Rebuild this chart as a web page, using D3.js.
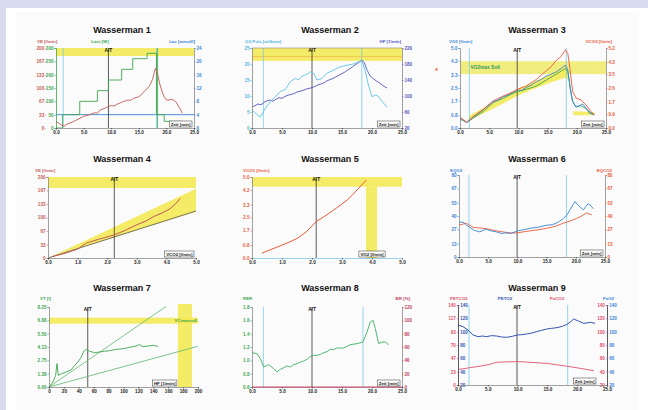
<!DOCTYPE html>
<html><head><meta charset="utf-8">
<script src="https://cdn.jsdelivr.net/npm/d3@7"></script>
<style>
body{margin:0;background:#d9dcef;}
svg{display:block;}
</style></head><body>
<svg width="648" height="410"></svg>
<script>
// ---- data ----
const timeTicks = [0, 5, 10, 15, 20, 25];

// Wasserman 1: VE, load steps, lactate
const ve1 = [[0,16],[0.5,12],[1,7],[1.5,5],[2,10],[3,15],[4,22],[5,29],[6,33],[7,38],[7.5,37],[8,45],[9,50],[9.5,54],[10,56],[10.5,55],[11,59],[12,65],[13,70],[13.5,69],[14,74],[15,78],[15.5,84],[16,92],[16.5,98],[17,107],[17.5,122],[18,149],[18.4,135],[18.8,110],[19.2,92],[19.6,78],[20,70],[20.5,70],[21,72],[21.7,66],[22.3,52],[22.9,37]];
const load1 = [[0,0],[1.2,50],[4.3,100],[7.5,140],[9.5,180],[11.9,220],[13.9,260],[16.5,280],[18.2,50],[19.6,25],[23,25]];
const veTicks = [0, 33, 67, 100, 133, 167, 200];
const loadTicks = [0, 50, 100, 150, 200, 250, 300];
const lacTicks = [0, 4, 8, 12, 16, 20, 24];
const lacRef1 = 4;
const at1 = 9.5, cyan1 = [1.3, 18.2], green1 = 18.4;

// Wasserman 2: O2 pulse, HF
const o2p2 = [[0,5.7],[0.56,4.6],[1.39,3.4],[1.94,5.2],[2.5,6.9],[3.33,8.8],[4.17,10.3],[4.72,11.4],[5.56,12.1],[6.39,14.5],[7.22,15.5],[7.78,15],[8.33,16.2],[9.17,16.8],[9.72,17.6],[10.28,17.1],[10.83,15],[11.67,15.5],[12.5,17.1],[13.6,18.1],[14.7,19.1],[15.8,19.6],[16.9,20],[17.8,20.7],[18.3,21.2],[18.9,17.6],[19.4,13.4],[20,9.8],[20.6,10.3],[21.1,9.8],[21.7,8.3],[22.5,6.5]];
const hf2 = [[0,72],[0.5,76],[1,80],[1.5,78],[2,84],[2.5,88],[3,90],[3.5,87],[4,92],[4.5,96],[5,94],[5.5,99],[6,102],[6.5,104],[7,106],[7.5,110],[8,112],[8.5,114],[9,117],[9.5,119],[10,121],[10.5,124],[11,128],[11.5,130],[12,133],[12.5,138],[13,141],[13.5,144],[14,148],[14.5,152],[15,156],[15.5,160],[16,166],[16.5,170],[17,176],[17.5,181],[18,186],[18.3,189],[18.7,184],[19.2,164],[19.7,150],[20.3,142],[20.8,137],[21.5,130],[22,124],[22.5,120]];
const o2pTicks = [0, 5, 10, 15, 20, 25];
const hfTicks = [20, 60, 100, 140, 180, 220];
const at2 = 10, cyan2 = [1.9, 18.3];
const o2pBand2 = [21, 25];

// Wasserman 3: VO2, VCO2, VE-related
const vo2_3 = [[0,0.62],[0.57,0.48],[1.14,0.35],[1.7,0.48],[2.27,0.68],[3.1,0.9],[3.98,1.14],[4.8,1.4],[5.68,1.65],[6.5,1.75],[7.39,1.96],[8.2,2.05],[9.09,2.21],[9.77,2.38],[10.5,2.34],[11.36,2.54],[12.2,2.68],[13.07,2.89],[13.9,3.03],[14.77,3.24],[15.6,3.36],[16.48,3.51],[17.3,3.72],[18.07,3.93],[18.47,3.62],[18.86,2.58],[19.2,1.76],[19.77,1.34],[20.4,1.38],[21,1.51],[21.6,1.24],[22.16,0.93],[23,0.83]];
const vco2_3 = [[0,0.71],[1.14,0.37],[2.27,0.75],[3.98,1.22],[5.68,1.76],[7.39,2.08],[9.09,2.36],[9.77,2.51],[11.36,2.73],[13.07,3.16],[14.77,3.72],[15.6,3.98],[16.48,4.4],[17.33,4.66],[18.07,5.09],[18.47,4.83],[18.86,3.76],[19.3,2.36],[19.9,1.93],[20.7,1.83],[21.6,1.5],[22.4,1.07],[23,0.86]];
const gr3 = [[0,0.56],[1.14,0.35],[2.27,0.62],[3.98,1.03],[5.68,1.59],[7.39,1.86],[9.09,2.17],[9.77,2.27],[11.36,2.42],[13.07,2.62],[14.77,3.0],[16.48,3.37],[17.6,3.62],[18.07,3.72],[18.47,3.51],[18.86,2.48],[19.3,1.65],[19.9,1.3],[20.7,1.4],[21.6,1.2],[22.4,0.95],[23,0.83]];
const corridor3 = [[1.5,0.45,0.75],[4,0.9,1.25],[7,1.45,1.85],[10,2.05,2.45],[13,2.5,2.95],[16,2.9,3.45],[18.1,3.15,3.9],[18.5,3.0,3.6]];
const corridorEnd3 = [[19.4,0.8,1.05],[23,0.8,1.0]];
const vo2Ticks = [0, 0.8, 1.7, 2.5, 3.3, 4.2, 5.0];
const vco2Ticks = [0, 0.9, 1.7, 2.6, 3.5, 4.3, 5.2];
const vo2maxBand3 = [3.37, 4.17];
const at3 = 9.8, cyan3 = [1.6, 18.2];

// Wasserman 4: VE vs VCO2
const ve4 = [[0.17,4],[0.6,12],[1.0,22],[1.3,37],[1.7,46],[2.24,57],[2.6,68],[3.0,82],[3.3,91],[3.56,102],[3.85,111],[4.13,122],[4.3,133],[4.47,147]];
const wedgeHi4 = 171, wedgeLo4 = 114, refLine4 = 116;
const veBand4 = [173, 200];
const at4 = 2.24;
const vco2xTicks = [0, 1, 2, 3, 4, 5];

// Wasserman 5: VCO2 vs VO2
const vco2_5 = [[0.33,0.3],[0.6,0.5],[0.94,0.75],[1.2,0.95],[1.5,1.2],[1.8,1.6],[2.14,2.25],[2.4,2.55],[2.6,2.8],[2.9,3.2],[3.17,3.57],[3.35,3.9],[3.5,4.2],[3.65,4.5],[3.81,4.8]];
const vco2Band5 = [4.4, 5.0];
const vo2Band5 = [3.8, 4.17];
const at5 = 2.14;
const vco2yTicks = [0, 0.8, 1.7, 2.5, 3.3, 4.2, 5.0];

// Wasserman 6: EQO2, EQCO2
const eqo2_6 = [[0,34],[0.7,34],[1.3,31],[1.83,29],[2.6,26],[3.55,24.5],[4.1,26],[4.69,27],[5.5,25.5],[6.41,24.5],[7.3,23],[8.13,23.5],[9,23],[9.95,25.5],[11,26.5],[12.13,28],[13.5,29],[15,31],[16,31.5],[17,34],[17.85,37.5],[18.5,41],[19,46],[19.5,51],[19.85,54],[20.3,51],[20.7,49],[21.3,46],[21.7,49],[22.1,52],[22.6,50],[23,47]];
const eqco2_6 = [[0,31],[0.6,32],[1.26,33],[1.8,31],[2.4,29],[3.2,28.5],[4.12,28],[5.2,27],[6.41,25.5],[7.5,24.5],[8.7,23.5],[9.95,23.5],[11,24.5],[12.13,25.5],[13.5,26.5],[15,28],[16.5,30],[17.85,33],[19,35],[20.1,37.5],[21,40],[21.85,43],[22.7,41]];
const eqTicks = [0, 13, 27, 40, 53, 67, 80];
const at6 = 9.95, cyan6 = [1.7, 18.4];

// Wasserman 7: VT vs HF
const vt7 = [[0,0],[5.4,0.52],[8.9,1.2],[10.7,2.41],[12.5,1.2],[16.6,1.37],[23.3,1.55],[30,1.79],[34.5,2.23],[38.9,2.58],[43.4,3.09],[46.5,3.68],[50.1,3.88],[54.6,3.68],[61.3,3.54],[68,3.61],[74.7,3.68],[81.4,3.75],[90.4,3.88],[99.3,3.95],[108.3,4.09],[117.2,4.23],[121.7,4.37],[126.2,4.16],[132.9,4.23],[139.6,4.3],[146.3,4.19]];
const vtLineA7 = [[0,0],[157,8.3]];
const vtLineB7 = [[0,0],[200,4.2]];
const vcBand7 = [6.53, 7.15];
const hfBand7 = [173, 192];
const at7 = 52;
const hrTicks = [0, 20, 40, 60, 80, 100, 120, 140, 160, 180, 200];
const vtTicks = [0, 1.38, 2.75, 4.13, 5.5, 6.88, 8.25];

// Wasserman 8: RER, BR
const rer8 = [[0,1.115],[0.83,1.1],[1.39,1.025],[1.94,0.9],[2.4,0.92],[2.78,0.935],[3.61,0.875],[4.17,0.825],[4.72,0.865],[5.3,0.89],[5.83,0.915],[6.4,0.9],[6.94,0.935],[7.5,0.95],[8.06,0.975],[8.6,0.99],[9.17,1.015],[10,1.075],[10.83,1.075],[11.4,1.09],[11.94,1.115],[12.5,1.13],[13.06,1.165],[13.6,1.16],[14.17,1.185],[15.28,1.185],[15.8,1.21],[16.39,1.235],[17.5,1.25],[18.5,1.275],[19.17,1.425],[19.72,1.575],[20.17,1.6],[20.56,1.475],[21.11,1.25],[21.67,1.275],[22.22,1.275],[22.78,1.235]];
const rerTicks = [0.6, 0.8, 1.0, 1.2, 1.4, 1.6, 1.8];
const brTicks = [0, 20, 40, 60, 80, 100, 120];
const br8 = [[0,0],[25,0]];
const at8 = 10, cyan8 = [1.9, 18.5];

// Wasserman 9: PETO2, PETCO2
const peto2_9 = [[0,110],[0.84,107.5],[1.69,102.5],[2.53,95],[3.37,92.5],[4.1,93.5],[4.78,92.5],[5.6,94],[6.46,93.5],[7.3,92],[8.15,91.5],[9.1,93],[9.94,95],[10.7,95.5],[11.5,96.5],[12.4,98],[13.2,100],[14,102],[14.9,104],[15.7,105],[16.6,106],[17.5,108],[18.3,111],[18.9,115],[19.4,119],[20.2,116],[21.1,112.5],[21.6,113],[22.2,114],[23,112.5]];
const petco2_9 = [[0,27.4],[1,28.5],[1.97,30.3],[3.1,32],[4.21,33.8],[5.3,36],[6.46,39.7],[8.2,40.5],[9.94,40.8],[11,40.5],[12.1,39.7],[13.5,38.8],[14.9,37.9],[16.3,35.8],[17.7,33.8],[19.1,31.5],[20.5,29.2],[21.7,27],[22.8,25]];
const petco2Ticks = [0, 23, 47, 70, 93, 117, 140];
const po2Ticks = [20, 40, 60, 80, 100, 120, 140];
const at9 = 9.9, cyan9 = [1.85, 18.4];

// ---- drawing ----
const FONT = "'Liberation Sans', Arial, sans-serif";
const C = {red: "#c35a55", green: "#3da650", blue: "#3a84d4", cyan: "#7ccbe8", purple: "#5656c0",
  orange: "#ec5a3a", pink: "#e0506c", yellow: "#f3e955", axis: "#8a8a8a"};
const f1 = d3.format(".1f");
const svg = d3.select("svg").attr("font-family", FONT);

svg.append("rect").attr("width", 648).attr("height", 410).attr("fill", "#d9dcef");
svg.append("rect").attr("x", 6).attr("y", 8).attr("width", 642).attr("height", 402).attr("fill", "#fff");
svg.append("rect").attr("x", 16).attr("y", 12).attr("width", 622).attr("height", 398).attr("fill", "#fbfbfb");

function styleAxis(a, color, lineColor) {
  a.attr("font-family", FONT).attr("font-size", 4.6).attr("font-weight", "bold");
  a.select(".domain").attr("stroke", lineColor).attr("stroke-width", 0.8);
  a.selectAll(".tick line").attr("stroke", color).attr("stroke-width", 0.6);
  a.selectAll(".tick text").attr("fill", color);
}
function xAxis(g, x, y, ticks, fmt, lineColor) {
  const a = g.append("g").attr("transform", `translate(0,${y})`)
    .call(d3.axisBottom(x).tickValues(ticks).tickFormat(fmt).tickSize(1.5).tickPadding(1.5));
  styleAxis(a, "#222", lineColor || C.axis);
}
function yAxis(g, y, xpos, side, color, ticks, fmt, lineColor, size) {
  const ax = (side === "left" ? d3.axisLeft(y) : d3.axisRight(y))
    .tickValues(ticks).tickFormat(fmt).tickSize(size === undefined ? 1.5 : size).tickPadding(1);
  const a = g.append("g").attr("transform", `translate(${xpos},0)`).call(ax);
  styleAxis(a, color, lineColor || C.axis);
}
function title(g, cx, y, t) {
  g.append("text").attr("x", cx).attr("y", y).attr("text-anchor", "middle")
    .attr("font-size", 9).attr("font-weight", "bold").attr("fill", "#111").text(t);
}
function axisTitle(g, x, y, t, color, anchor) {
  g.append("text").attr("x", x).attr("y", y).attr("text-anchor", anchor || "start")
    .attr("font-size", 4.4).attr("font-weight", "bold").attr("fill", color).text(t);
}
function plotLine(g, data, x, y, color, w, curve) {
  g.append("path").datum(data).attr("fill", "none").attr("stroke", color)
    .attr("stroke-width", w || 0.9).attr("stroke-linejoin", "round")
    .attr("d", d3.line().x(d => x(d[0])).y(d => y(d[1])).curve(curve || d3.curveLinear));
}
function vLine(g, xp, y0, y1, color, w) {
  g.append("line").attr("x1", xp).attr("x2", xp).attr("y1", y0).attr("y2", y1)
    .attr("stroke", color).attr("stroke-width", w || 0.8);
}
function hLine(g, yp, x0, x1, color, w) {
  g.append("line").attr("x1", x0).attr("x2", x1).attr("y1", yp).attr("y2", yp)
    .attr("stroke", color).attr("stroke-width", w || 0.8);
}
function rect(g, x0, x1, y0, y1, color, op) {
  g.append("rect").attr("x", Math.min(x0, x1)).attr("y", Math.min(y0, y1))
    .attr("width", Math.abs(x1 - x0)).attr("height", Math.abs(y1 - y0))
    .attr("fill", color).attr("opacity", op || 0.9);
}
function atMark(g, xp, y0, y1) {
  vLine(g, xp, y0, y1, "#333", 0.8);
  g.append("text").attr("x", xp).attr("y", y0 + 3.5).attr("text-anchor", "middle")
    .attr("font-size", 4.8).attr("font-weight", "bold").attr("fill", "#111").text("A/T");
}
function unitBox(g, xRight, yBottom, t) {
  const box = g.append("g");
  const r = box.append("rect");
  const txt = box.append("text").attr("font-size", 4.4).attr("font-weight", "bold")
    .attr("fill", "#111").text(t);
  const w = txt.node().getComputedTextLength() + 3;
  r.attr("x", xRight - w).attr("y", yBottom - 6)
    .attr("width", w).attr("height", 6).attr("fill", "#fff").attr("stroke", "#333").attr("stroke-width", 0.5);
  txt.attr("x", xRight - w + 1.5).attr("y", yBottom - 1.4);
}
function area(g, data, x, y, color, op) {
  g.append("path").datum(data).attr("fill", color).attr("opacity", op || 0.9)
    .attr("d", d3.area().x(d => x(d[0])).y0(d => y(d[1])).y1(d => y(d[2])));
}

// ---- Wasserman 1 ----
{
  const g = svg.append("g");
  const x0 = 56, x1 = 194, y0 = 48, y1 = 128;
  const x = d3.scaleLinear().domain([0, 25]).range([x0, x1]);
  const yVE = d3.scaleLinear().domain([0, 200]).range([y1, y0]);
  const yLoad = d3.scaleLinear().domain([0, 300]).range([y1, y0]);
  const yLac = d3.scaleLinear().domain([0, 24]).range([y1, y0]);
  title(g, 122, 33, "Wasserman 1");
  rect(g, x0, x1, yVE(200), yVE(180), C.yellow);
  cyan1.forEach(t => vLine(g, x(t), y0, y1, C.cyan, 0.8));
  vLine(g, x(green1), y0, y1, C.green, 0.8);
  hLine(g, yLac(lacRef1), x0, x1, C.blue, 0.9);
  atMark(g, x(at1), y0, y1);
  plotLine(g, load1, x, yLoad, C.green, 0.9, d3.curveStepAfter);
  plotLine(g, ve1, x, yVE, C.red, 0.9);
  yAxis(g, yVE, 46, "left", C.red, veTicks, d => d, "none", 0.8);
  yAxis(g, yLoad, x0, "left", C.green, loadTicks, d => d, C.green);
  yAxis(g, yLac, x1, "right", C.blue, lacTicks, d => d, C.axis);
  xAxis(g, x, y1, timeTicks, f1);
  unitBox(g, x1 - 2, y1 - 1, "Zeit [min]");
  axisTitle(g, 37, 43, "VE [l/min]", C.red);
  axisTitle(g, 100, 43, "Last [W]", C.green, "middle");
  axisTitle(g, 195, 43, "Lac [mmol/l]", C.blue, "end");
}

// ---- Wasserman 2 ----
{
  const g = svg.append("g");
  const x0 = 252, x1 = 402, y0 = 48, y1 = 128;
  const x = d3.scaleLinear().domain([0, 25]).range([x0, x1]);
  const yO2 = d3.scaleLinear().domain([0, 25]).range([y1, y0]);
  const yHF = d3.scaleLinear().domain([20, 220]).range([y1, y0]);
  title(g, 330, 33, "Wasserman 2");
  rect(g, x0, x1, yO2(o2pBand2[1]), yO2(o2pBand2[0]), C.yellow);
  hLine(g, yO2(22.3), x0, x1, "#f0b050", 0.7);
  cyan2.forEach(t => vLine(g, x(t), y0, y1, C.cyan, 0.8));
  atMark(g, x(at2), y0, y1);
  plotLine(g, hf2, x, yHF, C.purple, 0.9);
  plotLine(g, o2p2, x, yO2, "#5ec3e6", 0.9);
  yAxis(g, yO2, x0, "left", "#4fb6e0", o2pTicks, d => d);
  yAxis(g, yHF, x1, "right", C.purple, hfTicks, d => d);
  hLine(g, y0, x0, x1, C.axis, 0.6);
  xAxis(g, x, y1, timeTicks, f1);
  unitBox(g, x1 - 2, y1 - 1, "Zeit [min]");
  axisTitle(g, 245, 43, "O2-Puls [ml/beat]", "#4fb6e0");
  axisTitle(g, 401, 43, "HF [1/min]", C.purple, "end");
}

// ---- Wasserman 3 ----
{
  const g = svg.append("g");
  const x0 = 460, x1 = 606, y0 = 48, y1 = 128;
  const x = d3.scaleLinear().domain([0, 25]).range([x0, x1]);
  const yV = d3.scaleLinear().domain([0, 5]).range([y1, y0]);
  const yC = d3.scaleLinear().domain([0, 5.2]).range([y1, y0]);
  title(g, 537, 33, "Wasserman 3");
  rect(g, x0, x1, yV(vo2maxBand3[1]), yV(vo2maxBand3[0]), "#eeea70");
  area(g, corridor3, x, yV, C.yellow);
  area(g, corridorEnd3, x, yV, C.yellow);
  cyan3.forEach(t => vLine(g, x(t), y0, y1, C.cyan, 0.8));
  atMark(g, x(at3), y0, y1);
  plotLine(g, gr3, x, yV, C.green, 0.9);
  plotLine(g, vo2_3, x, yV, C.blue, 0.9);
  plotLine(g, vco2_3, x, yC, C.orange, 0.9);
  g.append("text").attr("x", x(1.8)).attr("y", yV(3.7)).attr("font-size", 4.8).attr("font-weight", "bold")
    .attr("fill", "#2f9a5a").text("VO2max Soll");
  g.append("text").attr("x", 435).attr("y", 73).attr("font-size", 8).attr("font-weight", "bold")
    .attr("fill", C.orange).text("*");
  yAxis(g, yV, x0, "left", C.blue, vo2Ticks, f1);
  yAxis(g, yC, x1, "right", C.orange, vco2Ticks, f1);
  xAxis(g, x, y1, timeTicks, f1);
  unitBox(g, x1 - 2, y1 - 1, "Zeit [min]");
  axisTitle(g, 449, 43, "VO2 [l/min]", C.blue);
  axisTitle(g, 612, 43, "VCO2 [l/min]", C.orange, "end");
}

// ---- Wasserman 4 ----
{
  const g = svg.append("g");
  const x0 = 48, x1 = 196, y0 = 177, y1 = 258;
  const x = d3.scaleLinear().domain([0, 5]).range([x0, x1]);
  const y = d3.scaleLinear().domain([0, 200]).range([y1, y0]);
  title(g, 122, 162, "Wasserman 4");
  rect(g, x0, x1, y(veBand4[1]), y(veBand4[0]), C.yellow);
  g.append("path").attr("fill", C.yellow).attr("opacity", 0.9)
    .attr("d", `M${x(0)},${y(0)}L${x(5)},${y(wedgeHi4)}L${x(5)},${y(wedgeLo4)}Z`);
  plotLine(g, [[0, 0], [5, refLine4]], x, y, "#555", 0.8);
  atMark(g, x(at4), y0, y1);
  plotLine(g, ve4, x, y, C.red, 1.0);
  yAxis(g, y, x0, "left", C.red, veTicks, d => d);
  xAxis(g, x, y1, vco2xTicks, f1);
  unitBox(g, x1 - 2, y1 - 1, "VCO2 [l/min]");
  axisTitle(g, 35, 172, "VE [l/min]", C.red);
}

// ---- Wasserman 5 ----
{
  const g = svg.append("g");
  const x0 = 252, x1 = 402, y0 = 177, y1 = 258;
  const x = d3.scaleLinear().domain([0, 5]).range([x0, x1]);
  const y = d3.scaleLinear().domain([0, 5]).range([y1, y0]);
  title(g, 330, 162, "Wasserman 5");
  rect(g, x0, x1, y(vco2Band5[1]), y(vco2Band5[0]), C.yellow);
  rect(g, x(vo2Band5[0]), x(vo2Band5[1]), y(vco2Band5[0]), y1, C.yellow);
  atMark(g, x(at5), y0, y1);
  plotLine(g, vco2_5, x, y, C.orange, 1.0);
  yAxis(g, y, x0, "left", C.orange, vco2yTicks, f1);
  xAxis(g, x, y1, vco2xTicks, f1, C.cyan);
  unitBox(g, x(vo2Band5[1]) + 8, y1 - 1, "VO2 [l/min]");
  axisTitle(g, 243, 172, "VCO2 [l/min]", C.orange);
}

// ---- Wasserman 6 ----
{
  const g = svg.append("g");
  const x0 = 459, x1 = 605, y0 = 175, y1 = 257;
  const x = d3.scaleLinear().domain([0, 25]).range([x0, x1]);
  const y = d3.scaleLinear().domain([0, 80]).range([y1, y0]);
  title(g, 537, 162, "Wasserman 6");
  cyan6.forEach(t => vLine(g, x(t), y0, y1, C.cyan, 0.8));
  atMark(g, x(at6), y0, y1);
  plotLine(g, eqco2_6, x, y, C.orange, 0.9);
  plotLine(g, eqo2_6, x, y, C.blue, 0.9);
  yAxis(g, y, x0, "left", C.blue, eqTicks, d => d);
  yAxis(g, y, x1, "right", C.orange, eqTicks, d => d);
  xAxis(g, x, y1, timeTicks, f1);
  unitBox(g, x1 - 2, y1 - 1, "Zeit [min]");
  axisTitle(g, 450, 172, "EQO2", C.blue);
  axisTitle(g, 612, 172, "EQCO2", C.orange, "end");
}

// ---- Wasserman 7 ----
{
  const g = svg.append("g");
  const x0 = 49, x1 = 198, y0 = 307, y1 = 387;
  const x = d3.scaleLinear().domain([0, 200]).range([x0, x1]);
  const y = d3.scaleLinear().domain([0, 8.25]).range([y1, y0]);
  title(g, 122, 291, "Wasserman 7");
  rect(g, x0, x1, y(vcBand7[1]), y(vcBand7[0]), C.yellow);
  rect(g, x(hfBand7[0]), x(hfBand7[1]), y0 - 3, y1, C.yellow);
  atMark(g, x(at7), y0, y1);
  plotLine(g, vtLineA7, x, y, "#5cb86e", 0.8);
  plotLine(g, vtLineB7, x, y, "#5cb86e", 0.8);
  plotLine(g, vt7, x, y, C.green, 0.9);
  g.append("text").attr("x", x1 - 1).attr("y", y(6.68)).attr("text-anchor", "end")
    .attr("font-size", 4.4).attr("font-weight", "bold").attr("fill", C.green).text("VCmaxsoll");
  yAxis(g, y, x0, "left", C.green, vtTicks, d3.format(".2f"));
  xAxis(g, x, y1, hrTicks, d => d);
  unitBox(g, x(hfBand7[0]) - 1, y1 - 1, "HF [1/min]");
  axisTitle(g, 40, 300, "VT [l]", C.green);
}

// ---- Wasserman 8 ----
{
  const g = svg.append("g");
  const x0 = 252, x1 = 402, y0 = 307, y1 = 387;
  const x = d3.scaleLinear().domain([0, 25]).range([x0, x1]);
  const y = d3.scaleLinear().domain([0.6, 1.8]).range([y1, y0]);
  const yBR = d3.scaleLinear().domain([0, 120]).range([y1, y0]);
  title(g, 330, 291, "Wasserman 8");
  cyan8.forEach(t => vLine(g, x(t), y0, y1, C.cyan, 0.8));
  atMark(g, x(at8), y0, y1);
  plotLine(g, rer8, x, y, "#4fba72", 1.0);
  yAxis(g, y, x0, "left", C.green, rerTicks, f1);
  yAxis(g, yBR, x1, "right", "#c04060", brTicks, d => d);
  xAxis(g, x, y1, timeTicks, f1);
  plotLine(g, br8, x, yBR, "#d04a6a", 1.0);
  unitBox(g, x1 - 2, y1 - 1, "Zeit [min]");
  axisTitle(g, 243, 300, "RER", C.green);
  axisTitle(g, 410, 300, "BR [%]", "#c04060", "end");
}

// ---- Wasserman 9 ----
{
  const g = svg.append("g");
  const x0 = 458, x1 = 607, y0 = 305, y1 = 385;
  const x = d3.scaleLinear().domain([0, 25]).range([x0, x1]);
  const yPC = d3.scaleLinear().domain([0, 140]).range([y1, y0]);
  const yPO = d3.scaleLinear().domain([20, 140]).range([y1, y0]);
  title(g, 537, 291, "Wasserman 9");
  cyan9.forEach(t => vLine(g, x(t), y0, y1, C.cyan, 0.8));
  atMark(g, x(at9), y0, y1);
  plotLine(g, petco2_9, x, yPC, C.pink, 0.9);
  plotLine(g, peto2_9, x, yPO, "#3456b0", 1.0);
  yAxis(g, yPC, x0, "left", C.pink, petco2Ticks, d => d, "#555", 1.2);
  yAxis(g, yPO, x0, "right", "#3456b0", po2Ticks, d => d, "#555", 1.2);
  yAxis(g, yPO, x1, "left", C.pink, po2Ticks, d => d, "#555", 1.2);
  yAxis(g, yPO, x1, "right", C.blue, po2Ticks, d => d, "#555", 1.2);
  xAxis(g, x, y1, timeTicks, f1);
  unitBox(g, x1 - 11, y1 - 1, "Zeit [min]");
  axisTitle(g, 450, 300, "PETCO2", C.pink);
  axisTitle(g, 505, 300, "PETO2", "#3456b0", "middle");
  axisTitle(g, 557, 300, "PaCO2", C.pink, "middle");
  axisTitle(g, 614, 300, "PaO2", C.blue, "end");
}
</script>
</body></html>
